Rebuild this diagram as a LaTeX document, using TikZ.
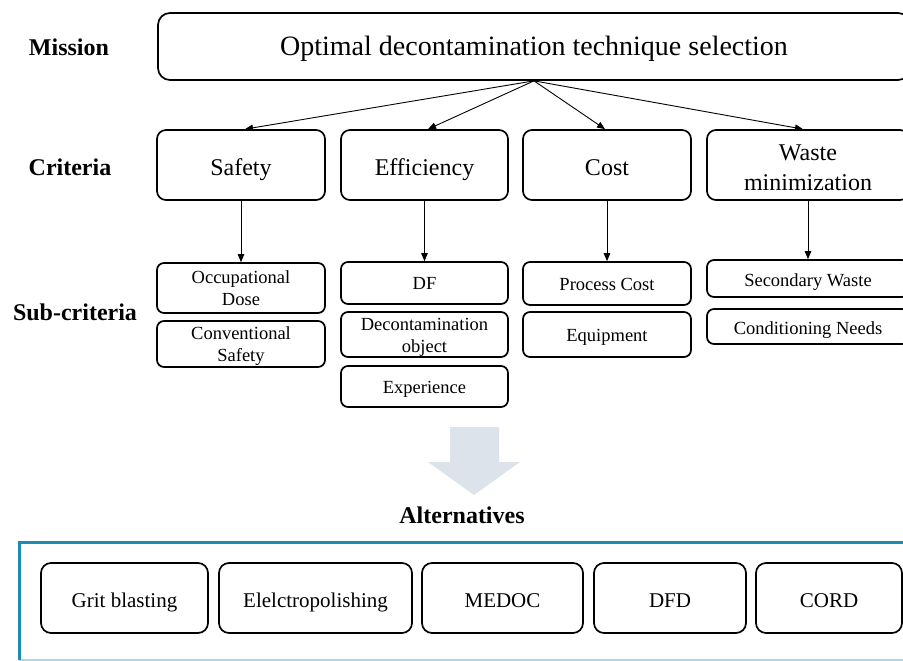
\documentclass[tikz,border=0pt]{standalone}
\usepackage{fontspec}
\setmainfont{Liberation Serif}
\usetikzlibrary{arrows.meta}
\definecolor{framedark}{HTML}{1E8BB3}
\definecolor{framelight}{HTML}{A8D8E6}
\definecolor{bigarrow}{HTML}{DCE3EB}
\begin{document}
\begin{tikzpicture}[x=1pt,y=-1pt,
  box/.style={draw=black,line width=1.7pt,rounded corners=9pt,align=center,inner sep=0pt},
  crit/.style={box,font=\fontsize{24}{30}\selectfont,minimum height=70pt},
  critone/.style={crit,text height=20pt,text depth=0pt},
  sub/.style={box,font=\fontsize{18.5}{22}\selectfont,rounded corners=7pt},
  subone/.style={sub,text height=13pt,text depth=0pt},
  subwaste/.style={sub,text height=16pt,text depth=0pt},
  subtxt/.style={font=\fontsize{18.5}{22}\selectfont,align=center,inner sep=0pt},
  alt/.style={box,font=\fontsize{21}{25}\selectfont,minimum height=70pt,rounded corners=10pt,
              text height=18pt,text depth=0pt},
  lbl/.style={font=\bfseries\fontsize{24}{28}\selectfont},
  arr/.style={line width=0.9pt,-{Triangle[length=8pt,width=6.5pt]}}]
\useasboundingbox (0,0) rectangle (903,661);
\clip (0,0) rectangle (903,661);

% labels
\node[lbl] (lmis) at (69,47) {Mission};
\node[lbl] (lcrit) at (70,167) {Criteria};
\node[lbl] (lsub) at (75,312) {Sub-criteria};
\node[lbl] (lalt) at (462,515) {Alternatives};

% mission
\node[box,rounded corners=12pt,minimum width=752pt,minimum height=67pt,
      font=\fontsize{28}{34}\selectfont,text height=19pt,text depth=0pt] (mis) at (534,46.5)
      {Optimal decontamination technique selection};

% criteria
\node[critone,minimum width=168pt] (c1) at (241,165) {Safety};
\node[critone,minimum width=167pt] (c2) at (424.5,165) {Efficiency};
\node[critone,minimum width=168pt] (c3) at (607,165) {Cost};
\node[crit,minimum width=202pt] (c4) at (808,165) {};
\node[font=\fontsize{24}{30}\selectfont,align=center,inner sep=0pt] (c4t) at ([yshift=-2.5pt]c4.center) {Waste\\minimization};

% sub-criteria
\node[sub,minimum width=168pt,minimum height=50pt] (s11) at (241,288) {};
\node[subtxt] (s11t) at ([yshift=-0.5pt]s11.center) {Occupational\\Dose};
\node[sub,minimum width=168pt,minimum height=46pt] (s12) at (241,344) {};
\node[subtxt] (s12t) at ([yshift=-2pt]s12.center) {Conventional\\Safety};
\node[subone,minimum width=167pt,minimum height=42pt] (s21) at (424.5,283) {DF};
\node[sub,minimum width=167pt,minimum height=45pt] (s22) at (424.5,334.5) {};
\node[subtxt] (s22t) at ([yshift=-2.5pt]s22.center) {Decontamination\\object};
\node[subone,minimum width=167pt,minimum height=41pt] (s23) at (424.5,386.5) {Experience};
\node[subone,minimum width=168pt,minimum height=43pt] (s31) at (607,283.5) {Process Cost};
\node[subone,minimum width=168pt,minimum height=45pt] (s32) at (607,334.5) {Equipment};
\node[subwaste,minimum width=202pt,minimum height=37pt] (s41) at (808,278.5) {Secondary Waste};
\node[subwaste,minimum width=202pt,minimum height=35pt] (s42) at (808,326.5) {Conditioning Needs};

% connectors
\draw[arr] (mis.south) -- ([xshift=4pt]c1.north);
\draw[arr] (mis.south) -- ([xshift=3.5pt]c2.north);
\draw[arr] (mis.south) -- ([xshift=-2pt]c3.north);
\draw[arr] (mis.south) -- ([xshift=-5pt]c4.north);
\draw[arr] (c1.south) -- (s11.north);
\draw[arr] (c2.south) -- (s21.north);
\draw[arr] (c3.south) -- (s31.north);
\draw[arr] (c4.south) -- (s41.north);

% big arrow
\fill[bigarrow] (450,427) -- (499,427) -- (499,462) -- (520,462) -- (474,495)
  -- (428,462) -- (450,462) -- cycle;

% alternatives frame
\draw[framelight,line width=2pt] (19,659.5) -- (915,659.5);
\draw[framedark,line width=3pt] (19,660) -- (19,542) -- (915,542);

% alternatives
\node[alt,minimum width=167pt] (a1) at (124.5,598) {Grit blasting};
\node[alt,minimum width=193pt] (a2) at (315.5,598) {Elelctropolishing};
\node[alt,minimum width=161pt] (a3) at (502.5,598) {MEDOC};
\node[alt,minimum width=152pt] (a4) at (670,598) {DFD};
\node[alt,minimum width=146pt] (a5) at (829,598) {CORD};
\end{tikzpicture}
\end{document}
